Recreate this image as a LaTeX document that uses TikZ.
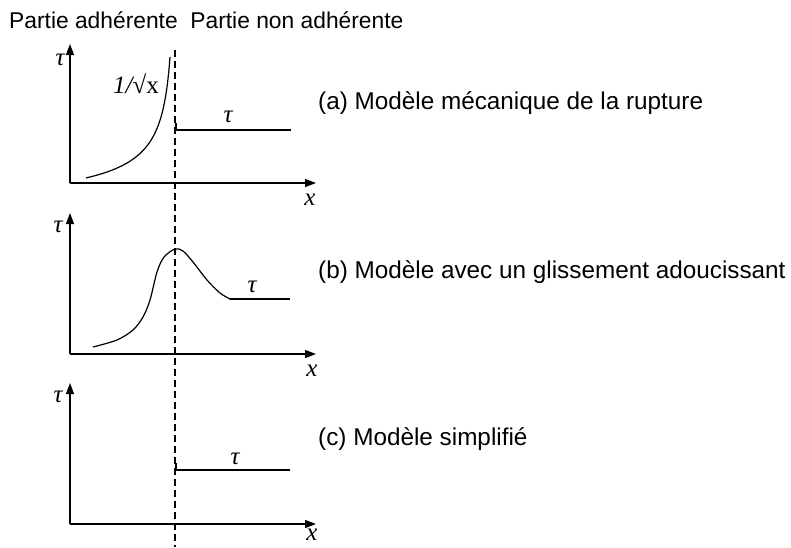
\documentclass[tikz,border=0pt]{standalone}
\usepackage{fontspec}
\setmainfont{Liberation Sans}
\newfontfamily\tms{Liberation Serif}
\usetikzlibrary{arrows.meta}
\begin{document}
\begin{tikzpicture}[x=1pt,y=-1pt,
  ax/.style={line width=1.2pt,-{Triangle[length=11pt,width=8pt]}},
  crv/.style={line width=1.2pt},
  caption/.style={anchor=base west,inner sep=0pt,font=\fontsize{24.3}{28}\selectfont},
  sym/.style={inner sep=0pt,font=\fontsize{25}{28}\selectfont\tms\itshape},
  dsh/.style={line width=1.1pt,dash pattern=on 7pt off 4pt}]
\useasboundingbox (0,0) rectangle (791,547);
% titles
\node[caption,font=\fontsize{22.8}{26}\selectfont] (title) at (9,28) {Partie adhérente\ \ Partie non adhérente};
\node[caption] (capa) at (318,109) {(a) Modèle mécanique de la rupture};
\node[caption] (capb) at (318,278) {(b) Modèle avec un glissement adoucissant};
\node[caption] (capc) at (318,445) {(c) Modèle simplifié};
% dashed separator
\coordinate (dtop) at (175,50);
\coordinate (dbot) at (175,547);
\draw[dsh] (dtop) -- (dbot);
% graph a
\coordinate (oa) at (70,183);
\coordinate (ya) at (70,44);
\coordinate (xa) at (316,183);
\draw[ax] (oa) -- (ya);
\draw[ax] (oa) -- (xa);
\node[sym] (ta) at (60,60) {τ};
\node[sym] (xla) at (310,200) {x};
\draw[crv] plot[domain=86:170,samples=80] (\x,{220-399/sqrt(176-\x)});
\node[inner sep=0pt,font=\fontsize{25}{28}\selectfont\tms] (inv) at (136,84) {{\itshape 1/}√x};
\coordinate (sa1) at (176,123);
\coordinate (sa2) at (176,130);
\coordinate (sa3) at (291,130);
\draw[crv] (sa1) -- (sa2) -- (sa3);
\node[sym] (tsa) at (228,117) {τ};
% graph b
\coordinate (ob) at (70,354);
\coordinate (yb) at (70,213);
\coordinate (xb) at (316,354);
\draw[ax] (ob) -- (yb);
\draw[ax] (ob) -- (xb);
\node[sym] (tb) at (58,227) {τ};
\node[sym] (xlb) at (312,371) {x};
\coordinate (b0) at (93,347);
\coordinate (b3) at (230,299);
\coordinate (b4) at (290,299);
\draw[crv] plot[smooth,tension=0.5] coordinates {(93,347) (117,340) (133,330) (143,317) (150,300) (157,272) (164,257) (175,249) (183,251) (193,262) (207,280) (220,293) (230,299)};
\draw[crv] (b3) -- (b4);
\node[sym] (tsb) at (252,287) {τ};
% graph c
\coordinate (oc) at (70,524);
\coordinate (yc) at (70,383);
\coordinate (xc) at (316,524);
\draw[ax] (oc) -- (yc);
\draw[ax] (oc) -- (xc);
\node[sym] (tc) at (58,397) {τ};
\node[sym] (xlc) at (312,535) {x};
\coordinate (sc1) at (176,463);
\coordinate (sc2) at (176,470);
\coordinate (sc3) at (290,470);
\draw[crv] (sc1) -- (sc2) -- (sc3);
\node[sym] (tsc) at (235,459) {τ};
\end{tikzpicture}
\end{document}
